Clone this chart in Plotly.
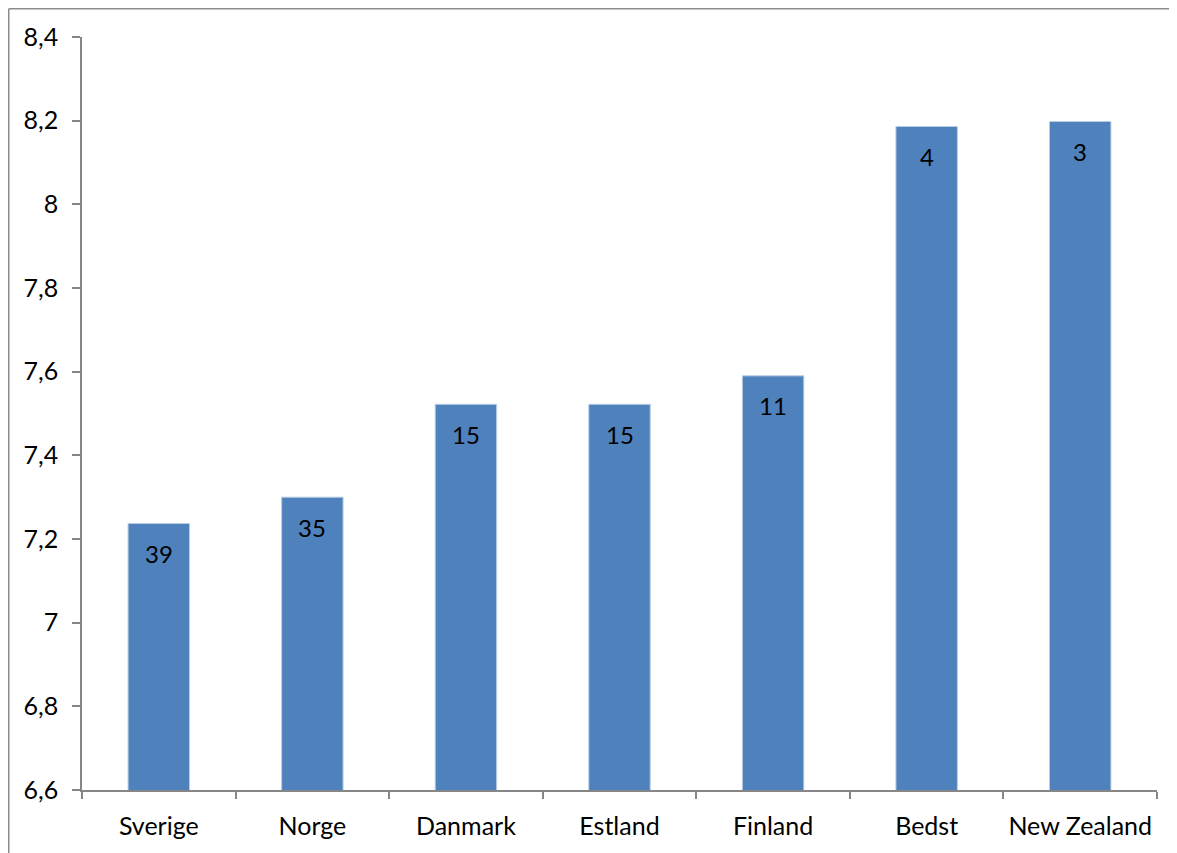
import plotly.graph_objects as go

categories = ["Sverige", "Norge", "Danmark", "Estland", "Finland", "Bedst", "New Zealand"]
values = [7.237, 7.30, 7.522, 7.522, 7.59, 8.186, 8.198]
ranks = ["39", "35", "15", "15", "11", "4", "3"]
y_ticks = [6.6, 6.8, 7.0, 7.2, 7.4, 7.6, 7.8, 8.0, 8.2, 8.4]

# page has an 8px body margin, so the figure is sized/offset to fit the window
W, H = 1169, 845
L, R, T, B = 74, 20, 29, 63
FONT = "Lato, 'Open Sans', sans-serif"

fig = go.Figure()
fig.add_trace(go.Bar(
    x=categories, y=values,
    marker=dict(color="#4F81BD", line=dict(color="#B9CDE5", width=1)),
    width=0.4,
    hoverinfo="x+y",
))

for c, v, r in zip(categories, values, ranks):
    fig.add_annotation(x=c, y=v, text=r, showarrow=False, yshift=-30,
                       font=dict(family=FONT, size=24, color="black"))

pw = W - L - R
ph = H - T - B
bx = (0.75 - L) / pw
by = (H - B - 0.75) / ph
fig.add_shape(type="line", xref="paper", yref="paper", x0=bx, x1=(W - L) / pw, y0=by, y1=by,
              line=dict(color="#8C8C8C", width=1.5))
fig.add_shape(type="line", xref="paper", yref="paper", x0=bx, x1=bx, y0=by, y1=-B / ph,
              line=dict(color="#8C8C8C", width=1.5))

fig.update_layout(
    width=W, height=H,
    margin=dict(l=L, r=R, t=T, b=B, autoexpand=False),
    paper_bgcolor="white", plot_bgcolor="white",
    separators=",.",
    showlegend=False,
    font=dict(family=FONT, size=24, color="black"),
    xaxis=dict(
        automargin=False,
        showline=True, linecolor="#868686", linewidth=1.5,
        ticks="outside", tickson="boundaries", ticklen=7, tickcolor="#868686", tickwidth=1.5,
        showgrid=False, ticklabelstandoff=13,
        tickfont=dict(family=FONT, size=25, color="black"),
    ),
    yaxis=dict(
        automargin=False,
        range=[6.6, 8.4], tickvals=y_ticks,
        showline=True, linecolor="#868686", linewidth=1.5,
        ticks="outside", ticklen=8, tickcolor="#868686", tickwidth=1.5,
        showgrid=False, zeroline=False, ticklabelstandoff=9,
        tickfont=dict(family=FONT, size=25, color="black"),
    ),
)

fig.write_html("out.html",
               post_script="document.documentElement.style.overflow='hidden';")
